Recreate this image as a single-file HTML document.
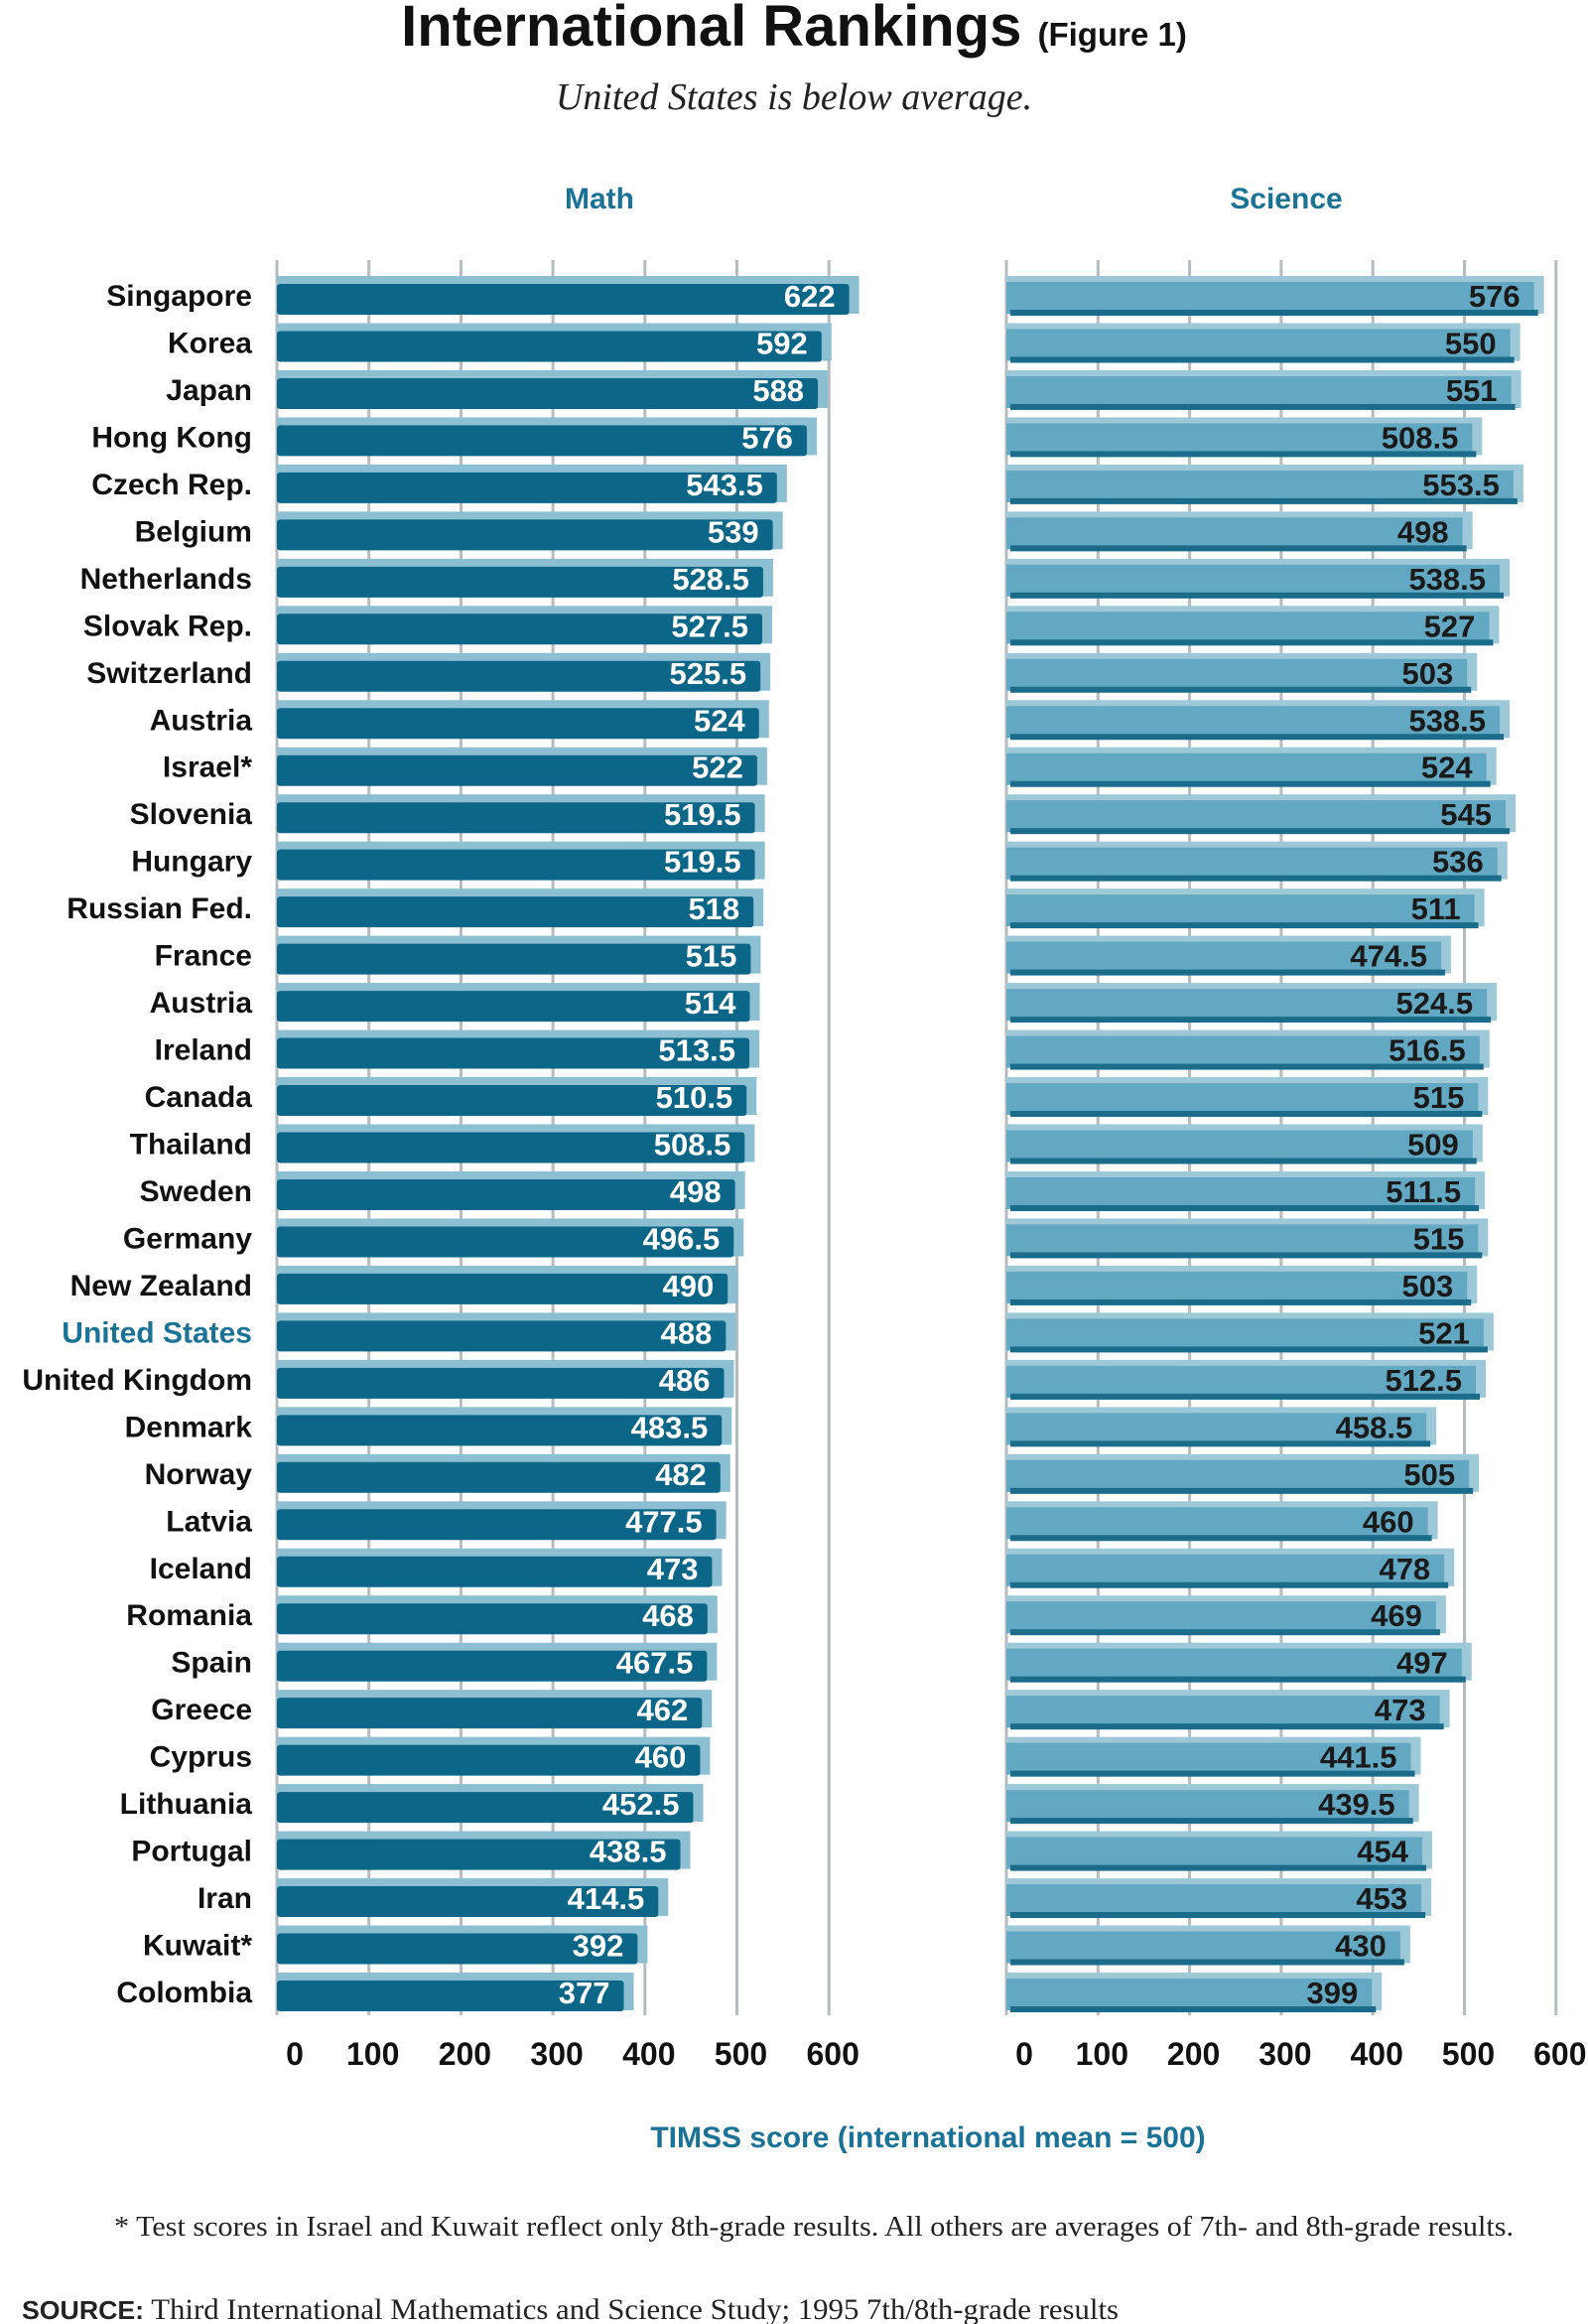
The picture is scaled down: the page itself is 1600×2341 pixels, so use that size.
<!DOCTYPE html>
<html><head><meta charset="utf-8"><style>
body{margin:0;background:#fff;width:1600px;height:2341px;overflow:hidden}
svg{display:block}
</style></head><body>
<svg id="chart" width="1600" height="2341" xmlns="http://www.w3.org/2000/svg">
<text x="800" y="46" text-anchor="middle" font-family="Liberation Sans, sans-serif" font-weight="bold" font-size="58" fill="#111">International Rankings <tspan font-size="33">(Figure 1)</tspan></text>
<text x="800" y="110" text-anchor="middle" font-family="Liberation Serif, serif" font-style="italic" font-size="38" fill="#222">United States is below average.</text>
<text x="604" y="210" text-anchor="middle" font-family="Liberation Sans, sans-serif" font-weight="bold" font-size="30" fill="#1a7396">Math</text>
<text x="1296" y="210" text-anchor="middle" font-family="Liberation Sans, sans-serif" font-weight="bold" font-size="30" fill="#1a7396">Science</text>
<g id="grid"></g><g id="bars"></g><g id="labels"></g>
<text x="935" y="2163" text-anchor="middle" font-family="Liberation Sans, sans-serif" font-weight="bold" font-size="30" fill="#1a7396">TIMSS score (international mean = 500)</text>
<text x="820" y="2252" text-anchor="middle" font-family="Liberation Serif, serif" font-size="29" fill="#222" textLength="1410" lengthAdjust="spacingAndGlyphs">* Test scores in Israel and Kuwait reflect only 8th-grade results. All others are averages of 7th- and 8th-grade results.</text>
<text x="22" y="2336" font-family="Liberation Serif, serif" font-size="30" fill="#222" textLength="1105" lengthAdjust="spacingAndGlyphs"><tspan font-family="Liberation Sans, sans-serif" font-weight="bold" font-size="26">SOURCE:</tspan> Third International Mathematics and Science Study; 1995 7th/8th-grade results</text>
</svg>
<script>
const countries=["Singapore","Korea","Japan","Hong Kong","Czech Rep.","Belgium","Netherlands","Slovak Rep.","Switzerland","Austria","Israel*","Slovenia","Hungary","Russian Fed.","France","Austria","Ireland","Canada","Thailand","Sweden","Germany","New Zealand","United States","United Kingdom","Denmark","Norway","Latvia","Iceland","Romania","Spain","Greece","Cyprus","Lithuania","Portugal","Iran","Kuwait*","Colombia"];
const mathScores=[622,592,588,576,543.5,539,528.5,527.5,525.5,524,522,519.5,519.5,518,515,514,513.5,510.5,508.5,498,496.5,490,488,486,483.5,482,477.5,473,468,467.5,462,460,452.5,438.5,414.5,392,377];
const scienceScores=[576,550,551,508.5,553.5,498,538.5,527,503,538.5,524,545,536,511,474.5,524.5,516.5,515,509,511.5,515,503,521,512.5,458.5,505,460,478,469,497,473,441.5,439.5,454,453,430,399];
const ticks=[0,100,200,300,400,500,600];
const NS="http://www.w3.org/2000/svg";
const rowTop=278, pitch=(2007-298)/36;
const panels=[{x0:279,scale:0.927,dark:"#0c6688",light:"#8cbfd2",txt:"#fff",name:"math"},
              {x0:1014,scale:0.923,dark:"#1b6c8a",light:"#62a8c2",txt:"#1a1a1a",name:"science"}];
panels[0].data=mathScores; panels[1].data=scienceScores;
function xs(p,v){return p.x0+v*p.scale;}
function yr(i){return rowTop+i*pitch;}
function mk(tag,attrs,parent){const e=document.createElementNS(NS,tag);for(const k in attrs)e.setAttribute(k,attrs[k]);parent.appendChild(e);return e;}
const grid=document.getElementById("grid"),bars=document.getElementById("bars"),labels=document.getElementById("labels");
panels.forEach(p=>{
  ticks.forEach(t=>{
    const l=mk("line",{x1:xs(p,t),x2:xs(p,t),y1:262,y2:2030,stroke:"#b5bcc0","stroke-width":3},grid);
    
    
    const tx=mk("text",{x:xs(p,t)+(t===0?18:4),y:2080,"text-anchor":"middle","font-family":"Liberation Sans, sans-serif","font-weight":"bold","font-size":32,fill:"#111"},labels);
    tx.textContent=t;
    
    
  });
  p.data.forEach((v,i)=>{
    const y=yr(i),end=xs(p,v);
    const g=mk("g",{},bars);
    
    
    mk("rect",{x:p.x0,y:y,width:end-p.x0+10,height:38,fill:p.name==="math"?p.light:"#9cc8d8"},g);
    if(p.name==="math"){
      mk("rect",{x:p.x0,y:y+8,width:end-p.x0,height:31,rx:3,fill:p.dark},g);
    }else{
      mk("rect",{x:p.x0,y:y+6,width:end-p.x0,height:32,fill:p.light},g);
      mk("rect",{x:p.x0+4,y:y+34,width:end-p.x0,height:6,fill:p.dark},g);
    }
    const tx=mk("text",{x:end-14,y:y+31,"text-anchor":"end","font-family":"Liberation Sans, sans-serif","font-weight":"bold","font-size":31,fill:p.txt},labels);
    tx.textContent=v;
    
    
  });
});
countries.forEach((c,i)=>{
  const tx=mk("text",{x:254,y:yr(i)+30,"text-anchor":"end","font-family":"Liberation Sans, sans-serif","font-weight":"bold","font-size":30,fill:c==="United States"?"#1a7396":"#111"},labels);
  tx.textContent=c;
  
  
});
</script>
</body></html>
